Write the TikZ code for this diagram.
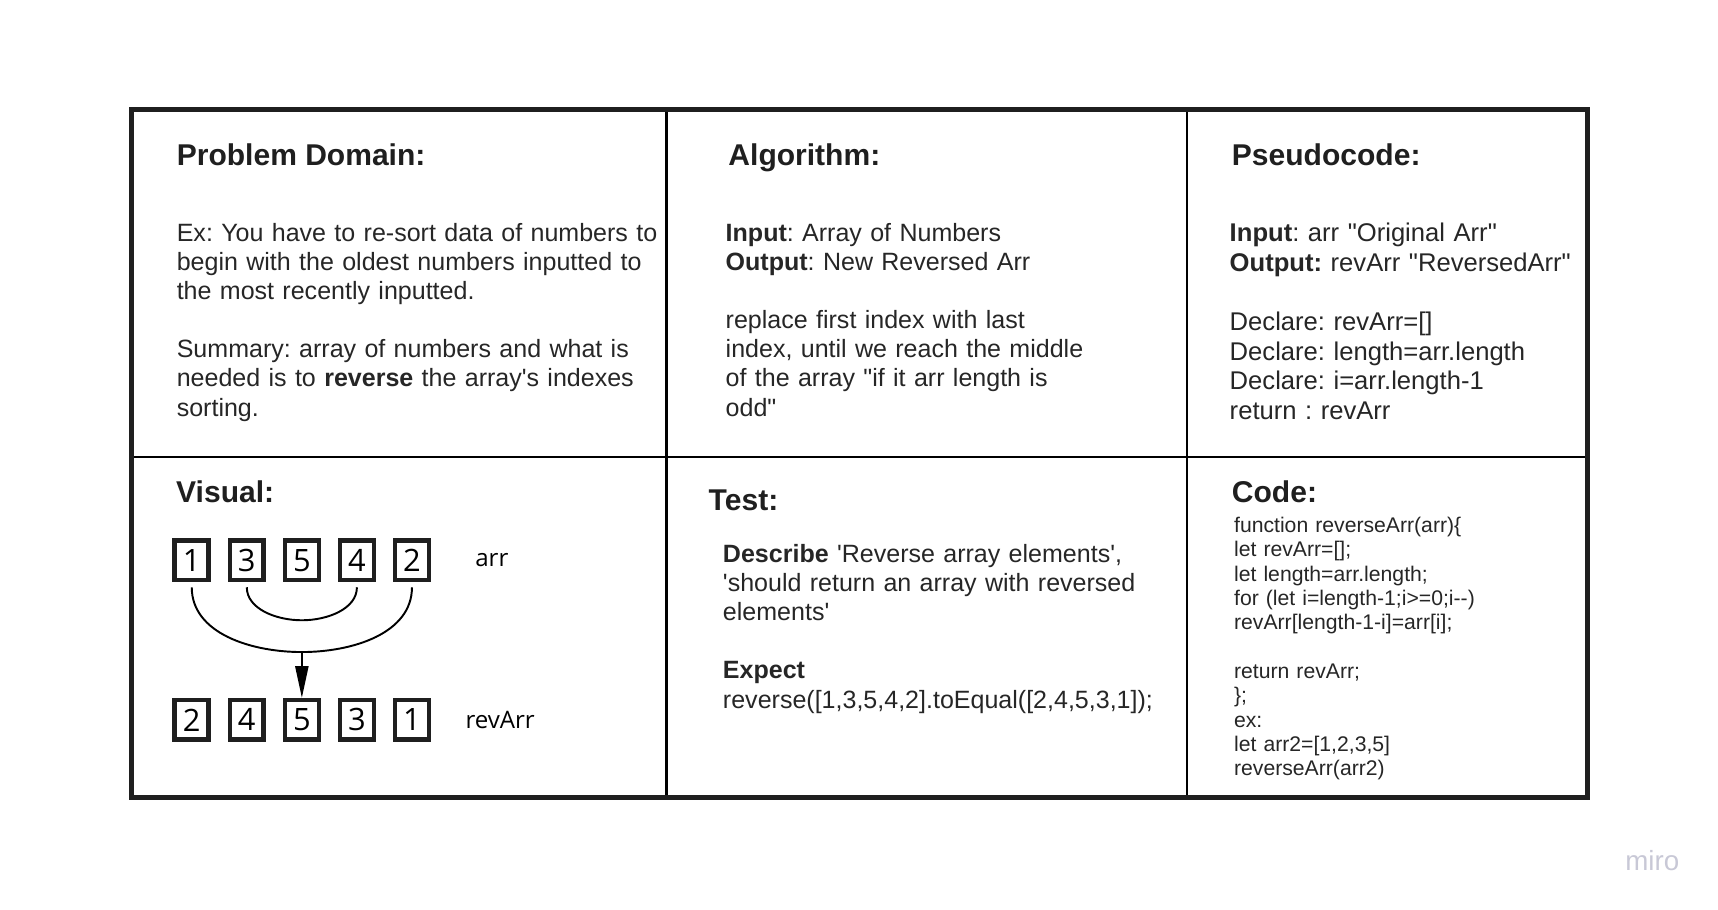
\documentclass[tikz,border=0pt]{standalone}
\usepackage{fontspec}
\setmainfont{Liberation Sans}[Ligatures=TeXOff]
\newfontfamily\cellfont{Open Sans}[Ligatures=TeXOff]
\usetikzlibrary{arrows.meta,positioning}
\frenchspacing

\begin{document}
\begin{tikzpicture}[
  outerframe/.style={draw=black!88, line width=2.6pt},
  divider/.style={draw=black, line width=1.2pt},
  title/.style={anchor=base west, inner sep=0pt, font=\fontsize{15.6}{18}\selectfont\bfseries, text=black!88},
  body/.style={anchor=base west, inner sep=0pt, text width=10cm, align=left, font=\fontsize{13}{15.1}\selectfont, text=black!85},
  pseudo/.style={body, font=\fontsize{13.3}{15.4}\selectfont},
  codetxt/.style={body, font=\fontsize{11}{12.63}\selectfont},
  cell/.style={draw=black!88, line width=2.4pt, minimum width=0.62cm, minimum height=0.72cm, inner sep=0pt, font=\cellfont\fontsize{16}{18}\selectfont},
  lbl/.style={anchor=base west, inner sep=0pt, font=\cellfont\fontsize{12.5}{15}\selectfont},
  link/.style={line width=1pt, shorten <=2.5pt, shorten >=2.5pt},
  arr/.style={line width=1pt, -{Triangle[length=0.58cm,width=0.24cm]}}
]
  \useasboundingbox (0,0) rectangle (31.36,-16.6);

  % table lines
  \draw[divider] (12.166,-1.994) -- (12.166,-14.566);
  \draw[divider] (21.672,-1.994) -- (21.672,-14.566);
  \draw[divider] (2.406,-8.348) -- (28.986,-8.348);
  \draw[outerframe] (2.406,-1.994) rectangle (28.986,-14.566);

  % top row
  \node[title] (probtitle) at (3.22,-3.02) {Problem Domain:};
  \node[body] (probtext) at (3.22,-4.41) {Ex: You have to re-sort data of numbers to\\
    begin with the oldest numbers inputted to\\
    the most recently inputted.\\[\baselineskip]
    Summary: array of numbers and what is\\
    needed is to \textbf{reverse} the array's indexes\\
    sorting.};

  \node[title] (algotitle) at (13.29,-3.02) {Algorithm:};
  \node[body] (algotext) at (13.24,-4.41) {\textbf{Input}: Array of Numbers\\
    \textbf{Output}: New Reversed Arr\\[\baselineskip]
    replace first index with last\\
    index, until we reach the middle\\
    of the array "if it arr length is\\
    odd"};

  \node[title] (pseudotitle) at (22.48,-3.02) {Pseudocode:};
  \node[pseudo] (pseudotext) at (22.44,-4.41) {\textbf{Input}: arr "Original Arr"\\
    \textbf{Output:} revArr "ReversedArr"\\[\baselineskip]
    Declare: revArr=[]\\
    Declare: length=arr.length\\
    Declare: i=arr.length-1\\
    return : revArr};

  % bottom row
  \node[title] (vistitle) at (3.21,-9.18) {Visual:};
  \foreach \v [count=\i] in {1,3,5,4,2}
    \node[cell] (a\i) at ({2.495+1.005*\i},-10.23) {\v};
  \foreach \v [count=\i] in {2,4,5,3,1}
    \node[cell] (r\i) at ({2.495+1.005*\i},-13.14) {\v};
  \node[lbl] (arrlbl) at (8.67,-10.34) {arr};
  \node[lbl] (revlbl) at (8.49,-13.29) {revArr};

  \coordinate (outerlow) at ([yshift=-1.27cm]a3.south);
  \coordinate (innerlow) at ([yshift=-0.69cm]a3.south);
  \draw[link] (a1.south) to[out=-90,in=180] (outerlow) to[out=0,in=-90] (a5.south);
  \draw[link] (a2.south) to[out=-90,in=180] (innerlow) to[out=0,in=-90] (a4.south);
  \draw[arr] (outerlow) -- (r3.north);

  \node[title] (testtitle) at (12.93,-9.31) {Test:};
  \node[body] (testtext) at (13.19,-10.27) {\textbf{Describe} 'Reverse array elements',\\
    'should return an array with reversed\\
    elements'\\[\baselineskip]
    \textbf{Expect}\\
    reverse([1,3,5,4,2].toEqual([2,4,5,3,1]);};

  \node[title] (codetitle) at (22.48,-9.18) {Code:};
  \node[codetxt] (codetext) at (22.52,-9.72) {function reverseArr(arr)\{\\
    let revArr=[];\\
    let length=arr.length;\\
    for (let i=length-1;i>=0;i--)\\
    revArr[length-1-i]=arr[i];\\[\baselineskip]
    return revArr;\\
    \};\\
    ex:\\
    let arr2=[1,2,3,5]\\
    reverseArr(arr2)};

  \node[font=\fontsize{14.4}{16}\selectfont, text={rgb,255:red,200;green,200;blue,214}] (miro) at (30.16,-15.7) {miro};
\end{tikzpicture}
\end{document}
